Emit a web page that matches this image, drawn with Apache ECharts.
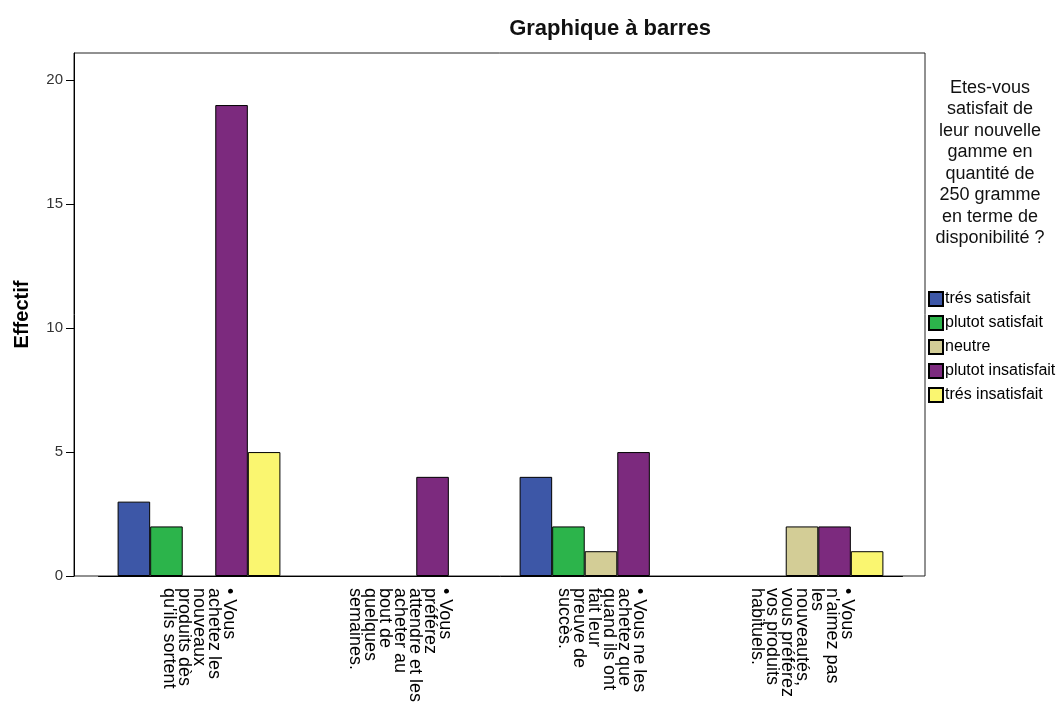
<!DOCTYPE html>
<html>
<head>
<meta charset="utf-8">
<script src="https://cdn.jsdelivr.net/npm/echarts@6/dist/echarts.min.js"></script>
<style>
html, body { margin: 0; padding: 0; background: #fff; }
#main { width: 1059px; height: 722px; }
</style>
</head>
<body>
<div id="main"></div>
<script>
// categories (multi-line labels as in the SPSS output)
var categories = [
    '• Vous\nachetez les\nnouveaux\nproduits dès\nqu\'ils sortent',
    '• Vous\npréférez\nattendre et les\nacheter au\nbout de\nquelques\nsemaines.',
    '• Vous ne les\nachetez que\nquand ils ont\nfait leur\npreuve de\nsuccès.',
    '• Vous\nn\'aimez pas\nles\nnouveautés,\nvous préférez\nvos produits\nhabituels.'
];
var seriesNames = ['trés satisfait', 'plutot satisfait', 'neutre', 'plutot insatisfait', 'trés insatisfait'];
var tresSatisfait = [3, null, 4, null];
var plutotSatisfait = [2, null, 2, null];
var neutre = [null, null, 1, 2];
var plutotInsatisfait = [19, 4, 5, 2];
var tresInsatisfait = [5, null, null, 1];
var yTicks = [0, 5, 10, 15, 20];
var legendHeading = 'Etes-vous\nsatisfait de\nleur nouvelle\ngamme en\nquantité de\n250 gramme\nen terme de\ndisponibilité ?';

var colors = ['#3D57A7', '#2CB44B', '#D3CD96', '#7C2A7E', '#FAF670'];
var seriesData = [tresSatisfait, plutotSatisfait, neutre, plutotInsatisfait, tresInsatisfait];
var yMax = 21.1;

var series = [];
for (var i = 0; i < seriesNames.length; i++) {
    series.push({
        name: seriesNames[i],
        type: 'bar',
        xAxisIndex: 1,
        yAxisIndex: 1,
        barGap: 0,
        barCategoryGap: '19%',
        itemStyle: { color: colors[i], borderColor: '#000', borderWidth: 1 },
        data: seriesData[i]
    });
}

var myChart = echarts.init(document.getElementById('main'));
var option = {
    backgroundColor: '#fff',
    animation: false,
    title: [
        {
            text: 'Graphique à barres',
            left: 610,
            top: 18,
            textAlign: 'center',
            padding: 0,
            textStyle: { fontFamily: 'Liberation Sans', fontSize: 22, fontWeight: 'bold', color: '#111' }
        },
        {
            text: legendHeading,
            left: 990,
            top: 77,
            textAlign: 'center',
            padding: 0,
            textStyle: { fontFamily: 'Liberation Sans', fontSize: 18, fontWeight: 'normal', color: '#111', lineHeight: 21.5 }
        }
    ],
    legend: {
        data: seriesNames,
        orient: 'vertical',
        left: 928,
        top: 291,
        padding: 0,
        icon: 'rect',
        itemWidth: 14,
        itemHeight: 14,
        itemGap: 8,
        textStyle: { fontFamily: 'Liberation Sans', fontSize: 16, color: '#000', padding: [0, 0, 0, -3] }
    },
    grid: [
        { left: 74, right: 134, top: 53, bottom: 146, show: true, borderColor: '#222', borderWidth: 1 },
        { left: 98.5, right: 156.5, top: 53, bottom: 146 }
    ],
    xAxis: [
        { type: 'value', gridIndex: 0, show: false, min: 0, max: 1 },
        {
            type: 'category',
            gridIndex: 1,
            data: categories,
            axisLine: { lineStyle: { color: '#000', width: 1 } },
            axisTick: { alignWithLabel: true, length: 14, lineStyle: { color: '#000' } },
            axisLabel: {
                rotate: -90,
                margin: 12,
                interval: 0,
                color: '#000',
                fontFamily: 'Liberation Sans',
                fontSize: 18,
                lineHeight: 15
            }
        }
    ],
    yAxis: [
        {
            type: 'value',
            gridIndex: 0,
            min: 0,
            max: yMax,
            name: 'Effectif',
            nameLocation: 'middle',
            nameGap: 42,
            nameRotate: 90,
            nameTextStyle: { fontFamily: 'Liberation Sans', fontSize: 20, fontWeight: 'bold', color: '#000' },
            splitLine: { show: false },
            axisLine: { show: true, lineStyle: { color: '#000' } },
            axisTick: { show: true, length: 8, customValues: yTicks, lineStyle: { color: '#000' } },
            axisLabel: { customValues: yTicks, margin: 11, color: '#333', fontFamily: 'Liberation Sans', fontSize: 15 }
        },
        { type: 'value', gridIndex: 1, min: 0, max: yMax, show: false, splitLine: { show: false } }
    ],
    series: series
};
myChart.setOption(option);
</script>
</body>
</html>
